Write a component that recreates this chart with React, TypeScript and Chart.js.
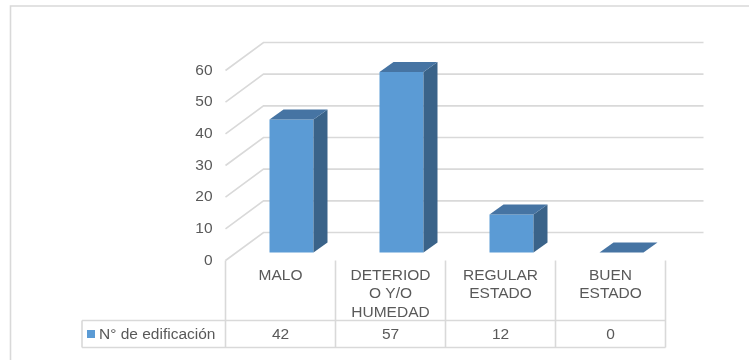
import React, { useEffect, useRef } from 'react';
import { Chart, registerables } from 'chart.js';

Chart.register(...registerables);

// ---- data ----
const categories: string[][] = [
  ['MALO'],
  ['DETERIOD', 'O Y/O', 'HUMEDAD'],
  ['REGULAR', 'ESTADO'],
  ['BUEN', 'ESTADO'],
];
const seriesName = 'N° de edificación';
const values: number[] = [42, 57, 12, 0];
const yTicks: number[] = [0, 10, 20, 30, 40, 50, 60];

// ---- style ----
const FRONT = '#5b9bd5';
const TOP = '#4674a3';
const SIDE = '#3a6389';
const GRID = '#d9d9d9';
const TEXT = '#595959';
const FONT = '"Liberation Sans", Arial, sans-serif';
const FONT_SIZE = 15.5;
const WALL_DX = 38;
const WALL_DY = 28;
const BAR_OFF_X = 11;
const BAR_OFF_Y = 8;
const BAR_DX = 14;
const BAR_DY = 10;
const ROW_TOP_OFFSET = 60;
const ROW_H = 27;
const LEGEND_LEFT = 82;

const threeD = {
  id: 'threeD',
  beforeDatasetsDraw(chart: any) {
    const { ctx, chartArea: ca, scales } = chart;
    const y = scales.y;
    ctx.save();
    ctx.strokeStyle = GRID;
    ctx.lineWidth = 1.6;
    yTicks.forEach((v) => {
      const py = y.getPixelForValue(v);
      ctx.beginPath();
      ctx.moveTo(ca.left, py);
      ctx.lineTo(ca.left + WALL_DX, py - WALL_DY);
      ctx.lineTo(ca.right + WALL_DX, py - WALL_DY);
      ctx.stroke();
    });
    ctx.restore();
    ctx.save();
    ctx.translate(BAR_OFF_X, -BAR_OFF_Y);
  },
  afterDatasetsDraw(chart: any) {
    const { ctx } = chart;
    const meta = chart.getDatasetMeta(0);
    meta.data.forEach((bar: any) => {
      const { x, y, base, width } = bar.getProps(['x', 'y', 'base', 'width'], true);
      const l = x - width / 2;
      const r = x + width / 2;
      ctx.fillStyle = SIDE;
      ctx.beginPath();
      ctx.moveTo(r, y);
      ctx.lineTo(r + BAR_DX, y - BAR_DY);
      ctx.lineTo(r + BAR_DX, base - BAR_DY);
      ctx.lineTo(r, base);
      ctx.closePath();
      ctx.fill();
      ctx.fillStyle = TOP;
      ctx.beginPath();
      ctx.moveTo(l, y);
      ctx.lineTo(l + BAR_DX, y - BAR_DY);
      ctx.lineTo(r + BAR_DX, y - BAR_DY);
      ctx.lineTo(r, y);
      ctx.closePath();
      ctx.fill();
    });
    ctx.restore();
  },
  afterDraw(chart: any) {
    const { ctx, chartArea: ca, scales } = chart;
    const xs = scales.x;
    const n = categories.length;
    const colW = (xs.right - xs.left) / n;
    const top = ca.bottom;
    const rowTop = top + ROW_TOP_OFFSET;
    const rowBottom = rowTop + ROW_H;
    ctx.save();
    ctx.strokeStyle = GRID;
    ctx.lineWidth = 1.6;
    for (let i = 0; i <= n; i++) {
      const px = xs.left + i * colW;
      ctx.beginPath();
      ctx.moveTo(px, top);
      ctx.lineTo(px, rowBottom);
      ctx.stroke();
    }
    ctx.beginPath();
    ctx.moveTo(LEGEND_LEFT, rowTop);
    ctx.lineTo(xs.right, rowTop);
    ctx.moveTo(LEGEND_LEFT, rowBottom);
    ctx.lineTo(xs.right, rowBottom);
    ctx.moveTo(LEGEND_LEFT, rowTop);
    ctx.lineTo(LEGEND_LEFT, rowBottom);
    ctx.stroke();
    // outer border
    ctx.beginPath();
    ctx.rect(10.5, 6, 760, 400);
    ctx.stroke();

    const midY = (rowTop + rowBottom) / 2;
    ctx.font = `${FONT_SIZE}px ${FONT}`;
    ctx.fillStyle = TEXT;
    ctx.textBaseline = 'middle';
    ctx.textAlign = 'center';
    values.forEach((v, i) => {
      ctx.fillText(String(v), xs.getPixelForValue(i), midY + 1);
    });
    ctx.fillStyle = FRONT;
    ctx.fillRect(LEGEND_LEFT + 5, midY - 4, 8, 8);
    ctx.fillStyle = TEXT;
    ctx.textAlign = 'left';
    ctx.fillText(seriesName, LEGEND_LEFT + 17, midY + 1);
    ctx.restore();
  },
};

export default function App() {
  const ref = useRef<HTMLCanvasElement>(null);
  useEffect(() => {
    if (!ref.current) return;
    const chart = new Chart(ref.current, {
      type: 'bar',
      data: {
        labels: categories,
        datasets: [
          {
            label: seriesName,
            data: values,
            backgroundColor: FRONT,
            borderWidth: 0,
            barPercentage: 0.4,
            categoryPercentage: 1,
            clip: false as any,
          },
        ],
      },
      options: {
        responsive: false,
        animation: false,
        devicePixelRatio: 1,
        layout: { padding: { left: 0, right: 83.5, top: 70.5, bottom: 0 } },
        plugins: { legend: { display: false }, tooltip: { enabled: false }, title: { display: false } },
        scales: {
          x: {
            grid: { display: false, drawTicks: false },
            border: { display: false },
            ticks: {
              color: TEXT,
              font: { family: FONT, size: FONT_SIZE, lineHeight: 1.18 },
              padding: 6,
              maxRotation: 0,
              autoSkip: false,
            },
            afterFit: (s: any) => {
              s.height = 99.5;
            },
          },
          y: {
            min: 0,
            max: 60,
            grid: { display: false, drawTicks: false },
            border: { display: false },
            ticks: {
              stepSize: 10,
              color: TEXT,
              font: { family: FONT, size: FONT_SIZE },
              padding: 13,
            },
            afterFit: (s: any) => {
              s.width = 225.5;
            },
          },
        },
      },
      plugins: [threeD],
    });
    return () => chart.destroy();
  }, []);
  return (
    <div style={{ position: 'absolute', left: 0, top: 0, width: 749, height: 360 }}>
      <canvas ref={ref} width={749} height={360} style={{ display: 'block' }} />
    </div>
  );
}
